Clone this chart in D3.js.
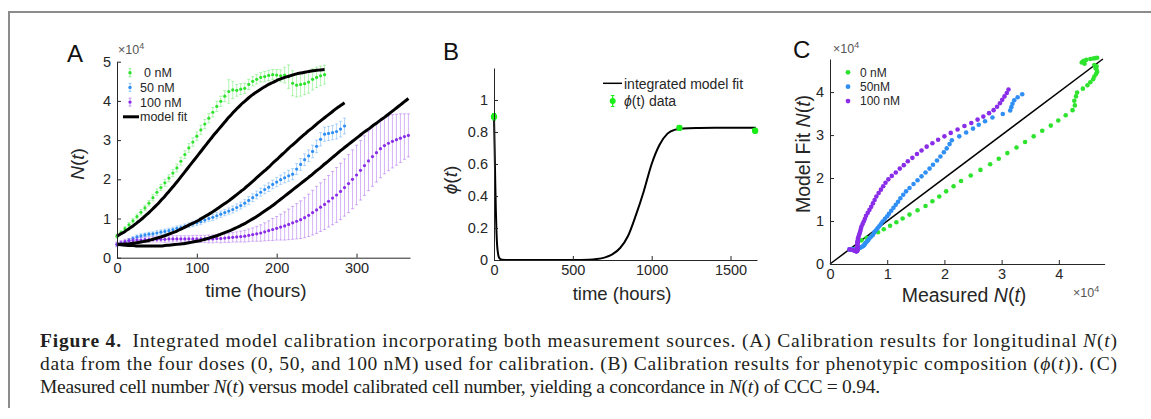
<!DOCTYPE html>
<html>
<head>
<meta charset="utf-8">
<script src="https://cdn.jsdelivr.net/npm/d3@7"></script>
<style>
html, body { margin: 0; padding: 0; background: #fff; }
svg { display: block; font-family: "Liberation Sans", Arial, sans-serif; }
</style>
</head>
<body>
<div id="fig"></div>
<script>
// measurement times (hours) shared by the three doses, N(t) values in units of 1e4
var hoursA = [0,5,10,15,20,25,30,35,40,45,50,55,60,65,70,75,80,85,90,95,100,105,110,115,120,125,130,135,140,145,150,155,160,165,170,175,180,185,190,195,200,205,210,215,220,225,230,235,240,245,250,255,260,265,270,275,280,285,290,295,300,305,310,315,320,325,330,335,340,345,350,355,360,365];

var doseLabels = ["0 nM", "50 nM", "100 nM"];
var doseLabelsC = ["0 nM", "50nM", "100 nM"];

var mean0nM = [0.55,0.64,0.74,0.84,0.94,1.05,1.16,1.27,1.39,1.53, 1.67,1.79,1.91,2.03,2.16,2.29,2.46,2.63,2.80,2.95, 3.10,3.26,3.41,3.56,3.71,3.86,3.99,4.12,4.24,4.28, 4.27,4.30,4.32,4.42,4.50,4.55,4.60,4.62,4.65,4.67, 4.66,4.64,4.66,4.62,4.45,4.40,4.42,4.44,4.48,4.55, 4.60,4.64,4.67];
var sd0nM = [0.05,0.05,0.05,0.06,0.06,0.06,0.07,0.07,0.07,0.08, 0.08,0.08,0.09,0.09,0.09,0.10,0.10,0.10,0.11,0.11, 0.11,0.12,0.12,0.12,0.12,0.13,0.13,0.14,0.30,0.22, 0.15,0.14,0.13,0.13,0.12,0.12,0.12,0.13,0.13,0.13, 0.14,0.15,0.20,0.30,0.32,0.30,0.30,0.28,0.28,0.27, 0.26,0.25,0.24];
var fit0nM = [0.55,0.61,0.67,0.74,0.81,0.89,0.97,1.06,1.15,1.25, 1.35,1.46,1.57,1.69,1.81,1.93,2.06,2.19,2.32,2.45, 2.58,2.71,2.84,2.97,3.10,3.22,3.34,3.46,3.58,3.69, 3.80,3.90,3.99,4.08,4.16,4.23,4.30,4.36,4.42,4.47, 4.52,4.56,4.60,4.63,4.66,4.69,4.71,4.73,4.75,4.77, 4.78,4.79,4.80];

var mean50nM = [0.34,0.36,0.39,0.44,0.49,0.53,0.56,0.58,0.60,0.61, 0.63,0.65,0.67,0.69,0.72,0.75,0.77,0.80,0.83,0.86, 0.89,0.92,0.96,1.00,1.03,1.07,1.11,1.15,1.19,1.23, 1.28,1.33,1.39,1.46,1.53,1.60,1.67,1.74,1.80,1.87, 1.93,1.99,2.04,2.09,2.13,2.26,2.38,2.50,2.60,2.71, 2.84,3.02,3.15,3.17,3.19,3.22,3.28,3.36];
var sd50nM = [0.05,0.05,0.05,0.05,0.05,0.05,0.05,0.05,0.05,0.05, 0.06,0.06,0.06,0.06,0.06,0.06,0.06,0.06,0.06,0.07, 0.07,0.07,0.07,0.07,0.08,0.08,0.08,0.08,0.08,0.09, 0.09,0.09,0.09,0.10,0.10,0.10,0.10,0.11,0.11,0.11, 0.12,0.12,0.13,0.14,0.14,0.14,0.15,0.15,0.15,0.16, 0.16,0.17,0.18,0.18,0.18,0.19,0.20,0.20];
var fit50nM = [0.34,0.34,0.35,0.35,0.37,0.38,0.40,0.42,0.44,0.47, 0.50,0.53,0.56,0.60,0.64,0.68,0.73,0.78,0.83,0.88, 0.93,0.99,1.05,1.11,1.17,1.24,1.31,1.38,1.45,1.53, 1.61,1.69,1.77,1.86,1.95,2.04,2.13,2.22,2.31,2.41, 2.50,2.60,2.69,2.79,2.88,2.97,3.06,3.15,3.24,3.32, 3.41,3.49,3.57,3.65,3.73,3.81,3.88,3.95];

var mean100nM = [0.34,0.38,0.41,0.43,0.44,0.45,0.45,0.46,0.46,0.47, 0.47,0.47,0.47,0.48,0.48,0.48,0.48,0.48,0.48,0.48, 0.48,0.48,0.48,0.48,0.48,0.49,0.49,0.50,0.51,0.52, 0.53,0.54,0.55,0.57,0.59,0.61,0.63,0.66,0.69,0.72, 0.75,0.78,0.81,0.85,0.89,0.93,0.97,1.02,1.08,1.15, 1.22,1.29,1.36,1.44,1.52,1.60,1.69,1.79,1.89,2.00, 2.11,2.23,2.35,2.47,2.58,2.68,2.78,2.86,2.92,2.97, 3.01,3.05,3.09,3.12];
var sd100nM = [0.06,0.06,0.06,0.06,0.06,0.07,0.07,0.07,0.07,0.07, 0.07,0.07,0.08,0.08,0.08,0.08,0.08,0.08,0.08,0.09, 0.09,0.09,0.09,0.10,0.10,0.10,0.11,0.11,0.12,0.12, 0.13,0.14,0.15,0.16,0.17,0.19,0.21,0.23,0.25,0.28, 0.30,0.33,0.36,0.39,0.42,0.45,0.48,0.51,0.54,0.57, 0.60,0.62,0.64,0.66,0.68,0.70,0.72,0.73,0.74,0.75, 0.76,0.76,0.76,0.76,0.76,0.75,0.74,0.72,0.70,0.68, 0.65,0.62,0.58,0.55];
var fit100nM = [0.34,0.33,0.32,0.31,0.31,0.30,0.30,0.30,0.30,0.30, 0.30,0.30,0.31,0.32,0.33,0.34,0.35,0.36,0.38,0.40, 0.42,0.44,0.47,0.50,0.53,0.56,0.60,0.64,0.68,0.72, 0.77,0.82,0.87,0.93,0.99,1.05,1.12,1.19,1.26,1.33, 1.41,1.49,1.57,1.65,1.73,1.81,1.89,1.97,2.05,2.13, 2.22,2.30,2.39,2.47,2.56,2.64,2.73,2.81,2.89,2.97, 3.05,3.13,3.21,3.28,3.36,3.43,3.51,3.58,3.66,3.74, 3.82,3.90,3.98,4.06];

// panel B: integrated model phi(t) and the three measured compositions
var phiFitHours = [0,4,8,12,16,20,25,30,40,50,100,300,500,600,650,700,750,800,850,900,950,1000,1050,1100,1150,1200,1300,1400,1500,1660];
var phiFitValues = [0.90,0.70,0.48,0.30,0.17,0.09,0.045,0.02,0.006,0.002,0,0,0,0.002,0.006,0.015,0.035,0.075,0.15,0.28,0.43,0.60,0.72,0.79,0.815,0.822,0.825,0.826,0.826,0.826];
var phiDataHours = [0, 1176, 1656];
var phiDataValues = [0.895, 0.826, 0.808];
var phiDataSd = [0.02, 0.014, 0.014];

var xTicksA = [0, 100, 200, 300];
var yTicksA = [0, 1, 2, 3, 4, 5];
var xTicksB = [0, 500, 1000, 1500];
var yTicksB = [0, 0.2, 0.4, 0.6, 0.8, 1];
var xTicksC = [0, 1, 2, 3, 4];
var yTicksC = [0, 1, 2, 3, 4];

var doseColors = ["#2ee32e", "#2f8ff5", "#8a2de8"];
var ink = "#262626";

var doses = [
    {label: doseLabels[0], labelC: doseLabelsC[0], mean: mean0nM, sd: sd0nM, fit: fit0nM, color: doseColors[0]},
    {label: doseLabels[1], labelC: doseLabelsC[1], mean: mean50nM, sd: sd50nM, fit: fit50nM, color: doseColors[1]},
    {label: doseLabels[2], labelC: doseLabelsC[2], mean: mean100nM, sd: sd100nM, fit: fit100nM, color: doseColors[2]}
];

var svg = d3.select("#fig")
    .append("svg")
    .attr("width", 1151)
    .attr("height", 419);

// frame around figure
svg.append("path")
    .attr("d", "M9,408 V12 H1160")
    .attr("fill", "none")
    .attr("stroke", "#8c8c8c")
    .attr("stroke-width", 2);

function drawAxes(g, x, y, xTicks, yTicks, xFormat, yFormat)
{
    var gx = g.append("g")
        .attr("transform", "translate(0," + y.range()[0] + ")")
        .call(d3.axisBottom(x).tickValues(xTicks).tickSizeInner(-4).tickSizeOuter(0).tickPadding(5).tickFormat(xFormat));
    var gy = g.append("g")
        .attr("transform", "translate(" + x.range()[0] + ",0)")
        .call(d3.axisLeft(y).tickValues(yTicks).tickSizeInner(-4).tickSizeOuter(0).tickPadding(6).tickFormat(yFormat));
    [gx, gy].forEach(function(a) {
        a.attr("font-family", null).attr("font-size", null);
        a.select(".domain").attr("stroke", ink).attr("stroke-width", 1);
        a.selectAll(".tick line").attr("stroke", ink);
        a.selectAll(".tick text").attr("fill", ink).style("font-size", "14.5px");
    });
}

function addText(g, x, y, size, parts, rotate, anchor)
{
    var t = g.append("text")
        .attr("x", x)
        .attr("y", y)
        .attr("fill", ink)
        .attr("text-anchor", anchor || "middle")
        .style("font-size", size + "px");
    if (rotate) t.attr("transform", "rotate(-90," + x + "," + y + ")");
    parts.forEach(function(p) {
        var s = t.append("tspan").text(p[0]);
        if (p[1]) s.style("font-style", "italic");
    });
    return t;
}

function addExponent(g, x, y)
{
    var t = g.append("text")
        .attr("x", x)
        .attr("y", y)
        .attr("fill", "#555")
        .style("font-size", "12.5px")
        .text("\u00d710");
    t.append("tspan").attr("dy", -5).style("font-size", "9px").text("4");
}

function errorBarPath(x, y1, y2, w)
{
    return "M" + x + "," + y1 + "V" + y2 +
        "M" + (x - w) + "," + y1 + "H" + (x + w) +
        "M" + (x - w) + "," + y2 + "H" + (x + w);
}

var intFormat = d3.format("d");

// ---------- panel A ----------
var gA = svg.append("g");
var xA = d3.scaleLinear().domain([0, 367]).range([117, 410]);
var yA = d3.scaleLinear().domain([0, 5]).range([257.7, 61.7]);

doses.forEach(function(s) {
    var pts = s.mean.map(function(m, i) { return {t: hoursA[i], m: m, sd: s.sd[i]}; });
    gA.append("g")
        .selectAll("path")
        .data(pts)
        .join("path")
        .attr("d", function(d) { return errorBarPath(xA(d.t), yA(d.m - d.sd), yA(d.m + d.sd), 1.6); })
        .attr("fill", "none")
        .attr("stroke", s.color)
        .attr("stroke-opacity", 0.45)
        .attr("stroke-width", 0.8);
    gA.append("g")
        .selectAll("circle")
        .data(pts)
        .join("circle")
        .attr("cx", function(d) { return xA(d.t); })
        .attr("cy", function(d) { return yA(d.m); })
        .attr("r", 1.6)
        .attr("fill", s.color);
});

var fitLineA = d3.line()
    .x(function(d) { return xA(d.t); })
    .y(function(d) { return yA(d.v); })
    .curve(d3.curveMonotoneX);

doses.forEach(function(s) {
    gA.append("path")
        .datum(s.fit.map(function(v, i) { return {t: hoursA[i], v: v}; }))
        .attr("d", fitLineA)
        .attr("fill", "none")
        .attr("stroke", "#000")
        .attr("stroke-width", 3);
});

drawAxes(gA, xA, yA, xTicksA, yTicksA, intFormat, intFormat);
addExponent(gA, 118, 54);
addText(gA, 256, 297, 19, [["time (hours)"]]);
addText(gA, 84, 164, 19, [["N", true], ["("], ["t", true], [")"]], true);
gA.append("text").attr("x", 67).attr("y", 62).attr("fill", "#111").style("font-size", "24px").text("A");

// legend A
var legA = gA.append("g");
doses.forEach(function(s, i) {
    var ly = 72.7 + i * 14.7;
    legA.append("path")
        .attr("d", errorBarPath(130, ly - 4, ly + 4, 1.4))
        .attr("fill", "none")
        .attr("stroke", s.color)
        .attr("stroke-opacity", 0.6)
        .attr("stroke-width", 0.8);
    legA.append("circle").attr("cx", 130).attr("cy", ly).attr("r", 1.7).attr("fill", s.color);
    legA.append("text")
        .attr("x", i == 0 ? 144 : 140)
        .attr("y", ly + 4.5)
        .attr("fill", ink)
        .style("font-size", "12.5px")
        .text(s.label);
});
legA.append("line")
    .attr("x1", 123).attr("x2", 139)
    .attr("y1", 116.8).attr("y2", 116.8)
    .attr("stroke", "#000").attr("stroke-width", 3);
legA.append("text")
    .attr("x", 140).attr("y", 121.3)
    .attr("fill", ink)
    .style("font-size", "12.5px")
    .text("model fit");

// ---------- panel B ----------
var gB = svg.append("g");
var xB = d3.scaleLinear().domain([0, 1668]).range([494, 757]);
var yB = d3.scaleLinear().domain([0, 1.2]).range([260, 68]);

gB.append("path")
    .datum(phiFitHours.map(function(t, i) { return {t: t, v: phiFitValues[i]}; }))
    .attr("d", d3.line()
        .x(function(d) { return xB(d.t); })
        .y(function(d) { return yB(d.v); })
        .curve(d3.curveMonotoneX))
    .attr("fill", "none")
    .attr("stroke", "#000")
    .attr("stroke-width", 2);

var phiPts = phiDataHours.map(function(t, i) { return {t: t, v: phiDataValues[i], sd: phiDataSd[i]}; });
gB.selectAll("path.eb")
    .data(phiPts)
    .join("path")
    .attr("class", "eb")
    .attr("d", function(d) { return errorBarPath(xB(d.t), yB(d.v - d.sd), yB(d.v + d.sd), 2); })
    .attr("fill", "none")
    .attr("stroke", "#19ee19")
    .attr("stroke-width", 1.2);
gB.selectAll("circle.pt")
    .data(phiPts)
    .join("circle")
    .attr("class", "pt")
    .attr("cx", function(d) { return xB(d.t); })
    .attr("cy", function(d) { return yB(d.v); })
    .attr("r", 3.2)
    .attr("fill", "#19ee19");

drawAxes(gB, xB, yB, xTicksB, yTicksB, intFormat, function(d) { return String(+d.toFixed(1)); });
addText(gB, 622, 300, 18.5, [["time (hours)"]]);
addText(gB, 457, 180, 19, [["\u03d5", true], ["("], ["t", true], [")"]], true);
gB.append("text").attr("x", 443).attr("y", 60).attr("fill", "#111").style("font-size", "24px").text("B");

// legend B
gB.append("line")
    .attr("x1", 603).attr("x2", 622)
    .attr("y1", 83.3).attr("y2", 83.3)
    .attr("stroke", "#000").attr("stroke-width", 1.5);
addText(gB, 624, 88.5, 14, [["integrated model fit"]], false, "start");
gB.append("path")
    .attr("d", errorBarPath(612.7, 95.5, 106.5, 1.8))
    .attr("fill", "none")
    .attr("stroke", "#19ee19")
    .attr("stroke-width", 1.2);
gB.append("circle").attr("cx", 612.7).attr("cy", 101).attr("r", 3).attr("fill", "#19ee19");
addText(gB, 624, 106, 14, [["\u03d5", true], ["(t) data"]], false, "start");

// ---------- panel C ----------
var gC = svg.append("g");
var xC = d3.scaleLinear().domain([0, 4.8]).range([830, 1104.6]);
var yC = d3.scaleLinear().domain([0, 4.77]).range([264, 59]);

gC.append("line")
    .attr("x1", xC(0)).attr("y1", yC(0))
    .attr("x2", xC(4.77)).attr("y2", yC(4.77))
    .attr("stroke", "#000").attr("stroke-width", 1.5);

doses.forEach(function(s) {
    gC.append("g")
        .selectAll("circle")
        .data(s.mean.map(function(m, i) { return {m: m, f: s.fit[i]}; }))
        .join("circle")
        .attr("cx", function(d) { return xC(d.m); })
        .attr("cy", function(d) { return yC(d.f); })
        .attr("r", 2.3)
        .attr("fill", s.color);
});

drawAxes(gC, xC, yC, xTicksC, yTicksC, intFormat, intFormat);
addExponent(gC, 833, 53);
addExponent(gC, 1073, 297);
addText(gC, 964, 302, 19.5, [["Measured "], ["N", true], ["("], ["t", true], [")"]]);
addText(gC, 810, 154, 19.5, [["Model Fit "], ["N", true], ["("], ["t", true], [")"]], true);
gC.append("text").attr("x", 793).attr("y", 58).attr("fill", "#111").style("font-size", "24px").text("C");

doses.forEach(function(s, i) {
    var ly = 72.3 + i * 14.4;
    gC.append("circle").attr("cx", 848).attr("cy", ly).attr("r", 2.4).attr("fill", s.color);
    addText(gC, 860, ly + 4.2, 12, [[s.labelC]], false, "start");
});

// ---------- caption ----------
var cap = svg.append("g")
    .style("font-family", "'Liberation Serif', 'Times New Roman', serif")
    .style("font-size", "19.5px")
    .attr("fill", "#231f20");

var lines = [
    {y: 347, len: 1077, parts: [["Figure 4.", "b"], ["\u2002Integrated model calibration incorporating both measurement sources. (A) Calibration results for longitudinal "], ["N", "i"], ["("], ["t", "i"], [")"]]},
    {y: 370, len: 1077, parts: [["data from the four doses (0, 50, and 100 nM) used for calibration. (B) Calibration results for phenotypic composition ("], ["\u03d5", "i"], ["("], ["t", "i"], [")). (C)"]]},
    {y: 393, len: 840, parts: [["Measured cell number "], ["N", "i"], ["("], ["t", "i"], [") versus model calibrated cell number, yielding a concordance in "], ["N", "i"], ["("], ["t", "i"], [") of CCC = 0.94."]]}
];
lines.forEach(function(l) {
    var t = cap.append("text")
        .attr("x", 40)
        .attr("y", l.y)
        .attr("textLength", l.len)
        .attr("lengthAdjust", "spacing");
    l.parts.forEach(function(p) {
        var s = t.append("tspan").text(p[0]);
        if (p[1] == "i") s.style("font-style", "italic");
        if (p[1] == "b") s.style("font-weight", "bold");
    });
});
</script>
</body>
</html>
